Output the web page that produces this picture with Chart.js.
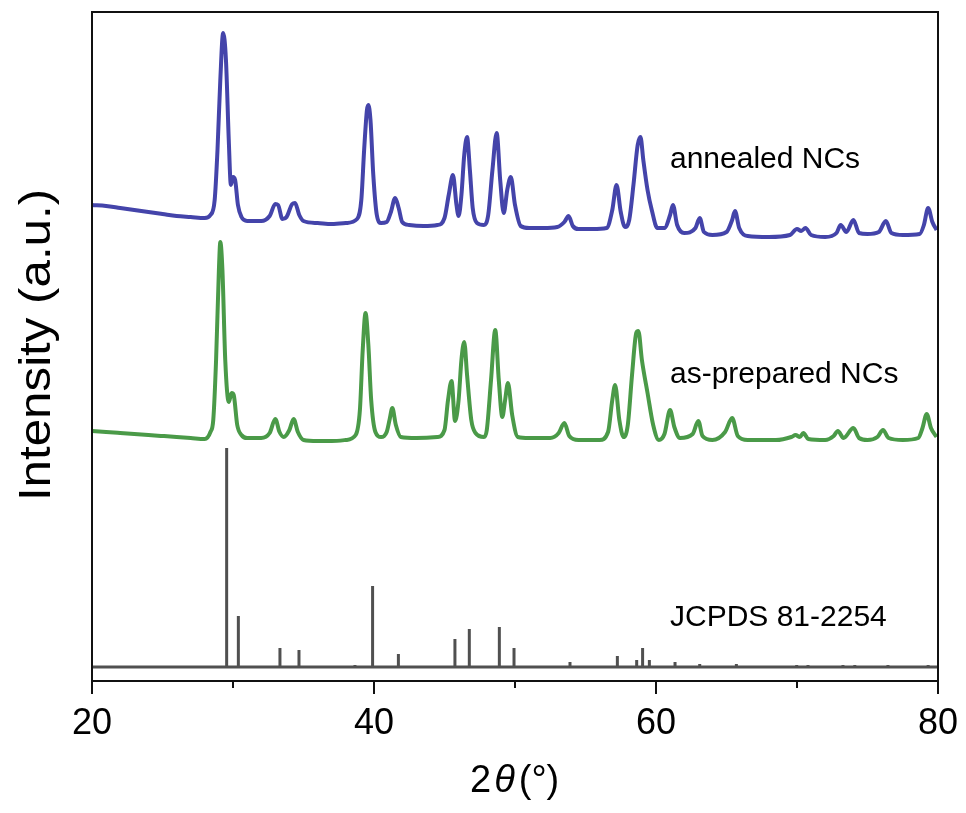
<!DOCTYPE html>
<html>
<head>
<meta charset="utf-8">
<script src="https://cdn.jsdelivr.net/npm/chart.js@4.4.1/dist/chart.umd.min.js"></script>
<style>
  body { margin: 0; background: #fff; }
  #wrap { width: 966px; height: 813px; }
</style>
</head>
<body>
<div id="wrap"><canvas id="xrd" width="966" height="813"></canvas></div>
<script>
// 2theta / intensity (a.u.)
const annealedX = [20.0, 21.0, 22.0, 23.0, 24.0, 25.0, 26.0, 27.0, 28.0, 28.4, 28.7, 28.9, 29.1, 29.3, 29.5, 29.7, 29.85, 30.0, 30.15, 30.35,
  30.6, 31.0, 32.0, 32.6, 33.0, 33.2, 33.5, 33.8, 34.2, 34.4, 34.7, 35.0, 36.0, 37.0, 38.0, 38.8, 39.1, 39.3, 39.5, 39.6,
  39.75, 39.95, 40.2, 40.5, 40.9, 41.2, 41.5, 41.75, 42.0, 42.5, 43.5, 44.5, 45.0, 45.3, 45.6, 45.85, 46.0, 46.2, 46.4, 46.6,
  46.8, 47.0, 47.3, 47.8, 48.1, 48.4, 48.7, 48.95, 49.2, 49.45, 49.7, 50.0, 50.4, 51.0, 52.0, 53.0, 53.5, 53.8, 54.1, 54.5,
  55.5, 56.5, 56.9, 57.2, 57.5, 57.8, 58.1, 58.4, 58.7, 58.9, 59.1, 59.4, 59.7, 60.1, 60.6, 61.0, 61.2, 61.5, 62.0, 62.8,
  63.1, 63.4, 64.0, 65.0, 65.4, 65.6, 65.9, 66.5, 68.0, 69.5, 70.0, 70.3, 70.6, 71.0, 72.0, 72.8, 73.1, 73.5, 74.0, 74.4,
  75.0, 75.8, 76.3, 76.7, 77.5, 78.7, 79.0, 79.3, 79.6, 79.9];
const annealedY = [476, 475, 473, 471, 469, 467, 465, 464, 463, 466, 481, 531, 601, 648, 621, 541, 496, 504, 501, 476,
  464, 460, 460, 465, 477, 476, 462, 464, 477, 478, 466, 460, 458, 457, 458, 462, 481, 531, 571, 576,
  561, 506, 466, 458, 459, 469, 483, 473, 459, 456, 455, 456, 463, 486, 506, 476, 465, 486, 526, 544,
  511, 473, 458, 456, 466, 511, 548, 501, 468, 491, 504, 476, 455, 453, 453, 454, 459, 465, 455, 452,
  452, 453, 471, 496, 469, 454, 461, 496, 536, 544, 521, 491, 471, 453, 453, 466, 476, 456, 448, 453,
  463, 449, 446, 449, 461, 470, 453, 445, 444, 446, 452, 450, 453, 446, 444, 448, 456, 449, 461, 448,
  447, 449, 460, 448, 446, 447, 456, 473, 459, 451];

const preparedX = [20.0, 21.0, 22.0, 23.0, 24.0, 25.0, 26.0, 27.0, 28.0, 28.4, 28.6, 28.8, 29.0, 29.1, 29.25, 29.45, 29.7, 29.9, 30.05, 30.3,
  30.6, 31.0, 32.0, 32.6, 33.0, 33.3, 33.6, 34.0, 34.3, 34.6, 35.0, 36.0, 37.0, 38.0, 38.7, 39.0, 39.2, 39.4, 39.6, 39.8,
  40.1, 40.5, 40.9, 41.1, 41.3, 41.55, 41.9, 43.0, 44.5, 45.0, 45.25, 45.5, 45.75, 46.0, 46.2, 46.4, 46.6, 46.9, 47.2, 47.8,
  48.0, 48.3, 48.6, 48.85, 49.1, 49.3, 49.5, 49.8, 50.2, 51.0, 52.5, 53.1, 53.5, 53.85, 54.5, 56.0, 56.6, 56.9, 57.1, 57.4,
  57.7, 58.0, 58.3, 58.6, 58.75, 59.0, 59.4, 59.8, 60.2, 60.6, 61.0, 61.3, 61.7, 62.6, 63.0, 63.3, 64.0, 64.9, 65.4, 65.8,
  66.5, 68.5, 69.6, 69.9, 70.2, 70.45, 70.8, 72.0, 72.6, 72.9, 73.3, 74.0, 74.4, 75.0, 75.7, 76.1, 76.5, 77.5, 78.6, 78.9,
  79.2, 79.5, 79.9];
const preparedY = [250, 249, 248, 247, 246, 245, 244, 243, 242, 249, 261, 321, 411, 439, 411, 321, 279, 288, 286, 256,
  246, 243, 243, 248, 262, 249, 244, 251, 262, 249, 241, 240, 240, 241, 246, 271, 331, 368, 336, 281,
  249, 244, 249, 261, 273, 256, 244, 243, 244, 251, 281, 300, 260, 281, 321, 339, 306, 261, 248, 244,
  251, 301, 351, 301, 264, 281, 298, 266, 244, 243, 243, 248, 258, 245, 241, 241, 249, 281, 296, 261,
  244, 256, 306, 348, 350, 321, 288, 256, 241, 247, 271, 254, 243, 247, 260, 245, 241, 249, 263, 245,
  241, 241, 244, 246, 244, 248, 242, 241, 245, 250, 243, 253, 243, 241, 244, 251, 243, 241, 243, 253,
  267, 253, 244];

// JCPDS 81-2254 reference lines
const stickBase = 14;
const stickPos = [29.55, 30.38, 33.33, 34.68, 38.65, 39.9, 41.73, 45.74, 46.76, 48.89, 49.93, 53.9, 57.26, 58.63, 59.05, 59.53,
  61.35, 63.1, 65.7, 69.98, 70.78, 73.26, 74.1, 75.4, 76.45, 79.3];
const stickTop = [233, 65, 33, 31, 16, 95, 27, 42, 52, 54, 33, 19, 25, 21, 33, 21,
  19, 17, 17, 16, 16, 16, 16, 15, 16, 16];

const majorTicks = [20, 40, 60, 80];
const minorTicks = [30, 50, 70];
const traceLabels = ['annealed NCs', 'as-prepared NCs', 'JCPDS 81-2254'];

function pairs(xs, ys) {
  return xs.map((x, i) => ({ x: x, y: ys[i] }));
}

// one polyline: baseline with a spike up and back down at each reference line
function stickPoints() {
  const pts = [{ x: 20, y: stickBase }];
  stickPos.forEach((x, i) => {
    pts.push({ x: x, y: stickBase }, { x: x, y: stickTop[i] }, { x: x, y: stickBase });
  });
  pts.push({ x: 80, y: stickBase });
  return pts;
}

const FONT = '"Liberation Sans", Arial, sans-serif';

const decor = {
  id: 'decor',
  afterDraw(chart) {
    const ctx = chart.ctx;
    const a = chart.chartArea;
    const xs = chart.scales.x;
    ctx.save();

    // frame
    ctx.strokeStyle = '#111';
    ctx.lineWidth = 2;
    ctx.strokeRect(a.left, a.top, a.right - a.left, a.bottom - a.top);

    // x ticks, outward
    ctx.beginPath();
    majorTicks.forEach(v => {
      const px = Math.round(xs.getPixelForValue(v));
      ctx.moveTo(px, a.bottom);
      ctx.lineTo(px, a.bottom + 13);
    });
    minorTicks.forEach(v => {
      const px = Math.round(xs.getPixelForValue(v));
      ctx.moveTo(px, a.bottom);
      ctx.lineTo(px, a.bottom + 7);
    });
    ctx.stroke();

    ctx.fillStyle = '#000';
    ctx.font = '36px ' + FONT;
    ctx.textAlign = 'center';
    ctx.textBaseline = 'alphabetic';
    majorTicks.forEach(v => {
      ctx.fillText(String(v), xs.getPixelForValue(v), 734);
    });

    // x title: 2θ(°)
    ctx.textAlign = 'left';
    const up = '38px ' + FONT;
    const it = 'italic 38px ' + FONT;
    ctx.font = up; const w1 = ctx.measureText('2').width;
    ctx.font = it; const w2 = ctx.measureText('\u03b8').width;
    let tx = 470;
    ctx.font = up; ctx.fillText('2', tx, 792); tx += w1 + 3;
    ctx.font = it; ctx.fillText('\u03b8', tx, 792); tx += w2 + 4;
    ctx.font = up; ctx.fillText('(\u00b0)', tx, 792);

    // y title
    ctx.save();
    ctx.translate(50, 345);
    ctx.rotate(-Math.PI / 2);
    ctx.scale(1.12, 1);
    ctx.textAlign = 'center';
    ctx.font = '44px ' + FONT;
    ctx.fillText('Intensity (a.u.)', 0, 0);
    ctx.restore();

    // trace labels
    ctx.font = '30px ' + FONT;
    ctx.textAlign = 'left';
    ctx.fillText(traceLabels[0], 670, 168);
    ctx.fillText(traceLabels[1], 670, 383);
    ctx.fillText(traceLabels[2], 670, 626);

    ctx.restore();
  }
};

new Chart(document.getElementById('xrd'), {
  type: 'line',
  data: {
    datasets: [
      {
        label: traceLabels[0],
        data: pairs(annealedX, annealedY),
        borderColor: '#4444aa',
        borderWidth: 4,
        pointRadius: 0,
        cubicInterpolationMode: 'monotone',
        borderJoinStyle: 'round'
      },
      {
        label: traceLabels[1],
        data: pairs(preparedX, preparedY),
        borderColor: '#4a9a48',
        borderWidth: 4,
        pointRadius: 0,
        cubicInterpolationMode: 'monotone',
        borderJoinStyle: 'round'
      },
      {
        label: traceLabels[2],
        data: stickPoints(),
        borderColor: '#505050',
        borderWidth: 3,
        pointRadius: 0,
        tension: 0,
        borderJoinStyle: 'bevel'
      }
    ]
  },
  options: {
    responsive: false,
    animation: false,
    layout: { padding: { left: 92, top: 12, right: 28, bottom: 132 } },
    scales: {
      x: { type: 'linear', min: 20, max: 80, display: false },
      y: { type: 'linear', min: 0, max: 669, display: false }
    },
    plugins: {
      legend: { display: false },
      tooltip: { enabled: false }
    }
  },
  plugins: [decor]
});
</script>
</body>
</html>
